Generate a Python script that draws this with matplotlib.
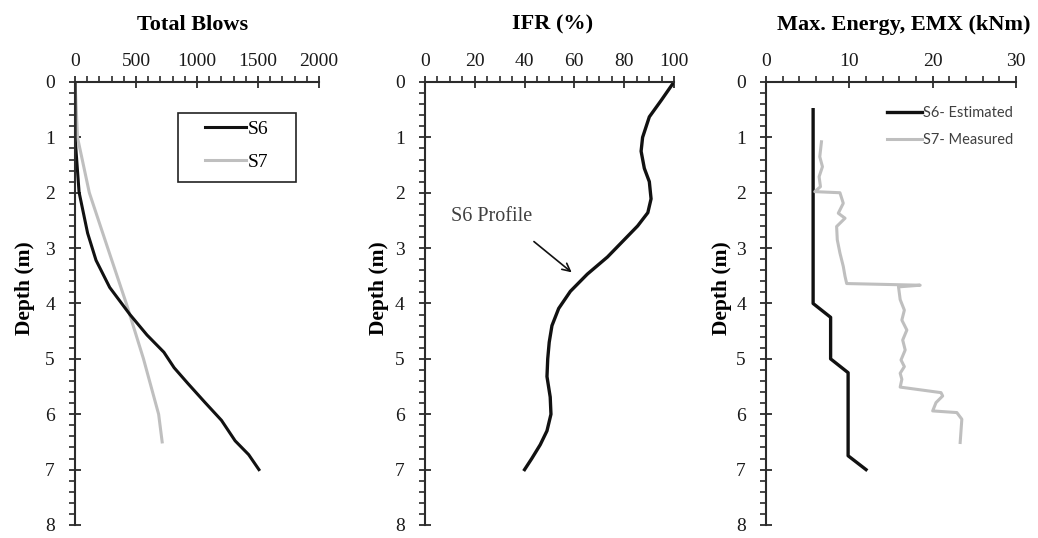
import numpy as np
import matplotlib.pyplot as plt
from matplotlib.patches import Rectangle
from matplotlib.ticker import MultipleLocator

plt.rcParams["font.family"] = "Liberation Serif"
plt.rcParams["font.size"] = 14

# Total blows vs depth
blows_s6_depth = [0.0, 1.0, 1.99, 2.73, 3.22, 3.71, 4.2, 4.57, 4.88, 5.16, 5.44, 5.78, 6.11, 6.48, 6.73, 7.0]
blows_s6 = [0, 0, 33, 103, 172, 284, 450, 590, 728, 812, 923, 1062, 1200, 1312, 1423, 1507]
blows_s7_depth = [0.0, 1.0, 2.0, 3.0, 4.0, 5.0, 6.0, 6.5]
blows_s7 = [0, 20, 117, 268, 420, 561, 685, 714]

# IFR profile of S6
ifr_depth = [0.0, 0.33, 0.63, 1.0, 1.25, 1.56, 1.8, 2.11, 2.36, 2.6, 2.85, 3.16, 3.47, 3.78,
             4.09, 4.4, 4.7, 5.0, 5.32, 5.69, 6.0, 6.3, 6.55, 6.8, 7.0]
ifr_s6 = [100, 94.9, 90.1, 87.4, 86.8, 88.1, 90.1, 90.8, 89.5, 85.4, 80.0, 73.3, 65.2, 58.4,
          53.7, 51.0, 49.9, 49.3, 49.0, 50.3, 50.6, 49.0, 46.3, 42.9, 40.0]

# Max. energy (EMX)
emx_s6_depth = [0.5, 4.0, 4.25, 5.0, 5.25, 6.75, 7.0]
emx_s6 = [5.65, 5.65, 7.75, 7.75, 9.85, 9.85, 12.0]
emx_s7_depth = [1.08, 1.35, 1.53, 1.71, 1.89, 1.98, 2.0, 2.19, 2.37, 2.46, 2.61, 2.85, 3.09,
                3.33, 3.51, 3.64, 3.67, 3.70, 3.93, 4.12, 4.3, 4.48, 4.66, 4.84, 5.02, 5.14,
                5.26, 5.37, 5.51, 5.61, 5.67, 5.79, 5.94, 5.97, 6.09, 6.51]
emx_s7 = [6.65, 6.45, 6.77, 6.37, 6.53, 5.85, 8.87, 9.27, 8.67, 9.48, 8.47, 8.55, 8.87,
          9.27, 9.48, 9.68, 18.5, 15.9, 16.1, 16.6, 16.3, 16.9, 16.4, 16.7, 16.2, 16.6,
          16.1, 16.3, 16.1, 21.0, 21.2, 20.4, 20.0, 22.9, 23.5, 23.3]

black = "#111111"
grey = "#bfbfbf"
axis_col = "#2b2b2b"

fig = plt.figure(figsize=(10.38, 5.38), dpi=100)
ax1 = fig.add_axes([0.0723, 0.0242, 0.2351, 0.8234])
ax2 = fig.add_axes([0.4094, 0.0242, 0.2399, 0.8234])
ax3 = fig.add_axes([0.7380, 0.0242, 0.2408, 0.8234])


def style_axis(ax, xmax, xmajor, xminor, title, title_x):
    ax.set_xlim(0, xmax)
    ax.set_ylim(8, 0)
    ax.xaxis.set_major_locator(MultipleLocator(xmajor))
    ax.xaxis.set_minor_locator(MultipleLocator(xminor))
    ax.yaxis.set_major_locator(MultipleLocator(1))
    ax.yaxis.set_minor_locator(MultipleLocator(0.2))
    ax.xaxis.tick_top()
    for side in ["right", "bottom"]:
        ax.spines[side].set_visible(False)
    for side in ["left", "top"]:
        ax.spines[side].set_color(axis_col)
        ax.spines[side].set_linewidth(1.5)
    ax.tick_params(which="major", direction="inout", length=9, width=1.3, color=axis_col,
                   labelsize=14, labelcolor="#1a1a1a")
    ax.tick_params(which="minor", direction="out", length=4, width=1.2, color=axis_col)
    ax.tick_params(axis="x", which="major", pad=4)
    ax.tick_params(axis="y", which="major", pad=10)
    ax.text(title_x, 1.129, title, transform=ax.transAxes, ha="center", va="center",
            fontsize=16, fontweight="bold")


style_axis(ax1, 2000, 500, 100, "Total Blows", 0.48)
style_axis(ax2, 100, 20, 5, "IFR (%)", 0.514)
style_axis(ax3, 30, 10, 2, "Max. Energy, EMX (kNm)", 0.552)

for ax, xl in [(ax1, -0.205), (ax2, -0.185), (ax3, -0.176)]:
    ax.text(xl, 0.535, "Depth (m)", transform=ax.transAxes, rotation=90,
            ha="center", va="center", fontsize=15.5, fontweight="bold")

# Total blows
ax1.plot(blows_s7, blows_s7_depth, color=grey, lw=2.2, label="S7")
ax1.plot(blows_s6, blows_s6_depth, color=black, lw=2.2, label="S6")
h, l = ax1.get_legend_handles_labels()
ax1.legend(h[::-1], l[::-1], loc="center left", bbox_to_anchor=(0.533, 0.856),
           frameon=False, fontsize=14, handlelength=2.1, handletextpad=0.1,
           labelspacing=0.77, borderpad=0, borderaxespad=0)
ax1.add_patch(Rectangle((0.422, 0.774), 0.484, 0.156, transform=ax1.transAxes,
                        fill=False, edgecolor="#222222", lw=1.2, zorder=5))

# IFR
ax2.plot(ifr_s6, ifr_depth, color=black, lw=2.4)
ax2.annotate("", xy=(59.8, 3.47), xytext=(42.9, 2.85),
             arrowprops=dict(arrowstyle="->", color=black, lw=1.2))
ax2.text(10.5, 2.43, "S6 Profile", ha="left", va="center", fontsize=14.5, color="#404040")

# EMX
ax3.plot(emx_s6, emx_s6_depth, color=black, lw=2.4, label="S6- Estimated")
ax3.plot(emx_s7, emx_s7_depth, color=grey, lw=2.2, label="S7- Measured")
ax3.legend(loc="upper left", bbox_to_anchor=(0.484, 0.945), frameon=False,
           prop={"family": "Lato", "size": 10.5}, labelcolor="#404040",
           handlelength=2.4, handletextpad=0.05, labelspacing=0.85,
           borderpad=0, borderaxespad=0)

fig.savefig("out.png", dpi=100)
